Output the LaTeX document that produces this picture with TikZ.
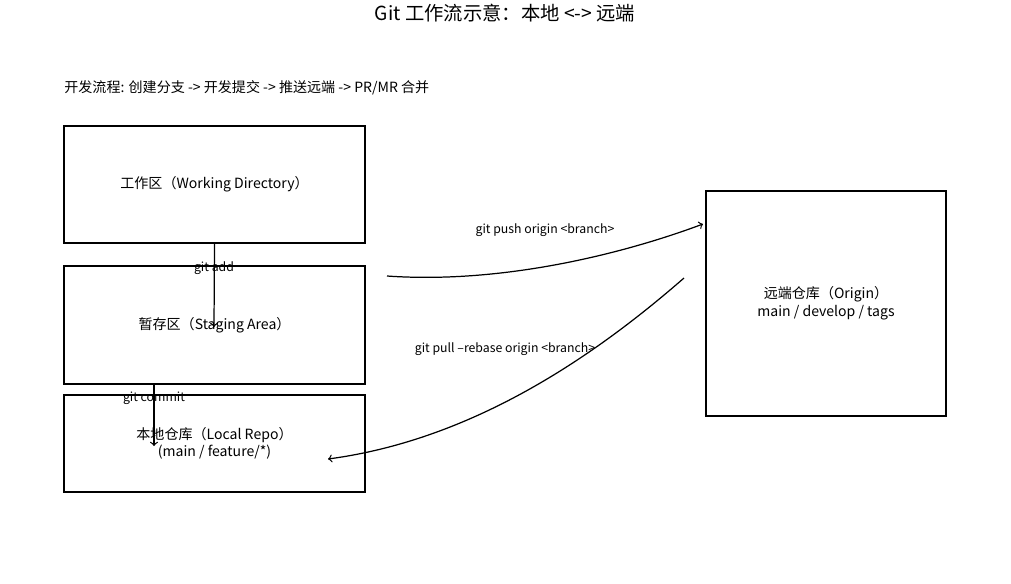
\documentclass[tikz,border=0pt]{standalone}
\usepackage{fontspec}
\setmainfont{Noto Sans CJK SC}
\usetikzlibrary{positioning, calc, arrows}

\tikzset{
  area/.style={draw, line width=0.9pt, minimum width=6.02cm, inner sep=0pt, align=center, font=\fontsize{8}{10}\selectfont},
  lbl/.style={font=\fontsize{7}{8}\selectfont, inner sep=1pt},
  flow/.style={->, line width=0.7pt}
}

\begin{document}
\begin{tikzpicture}[x=0.02cm, y=-0.02cm]
        \useasboundingbox (0,0) rectangle (1011,583);
        % titles
        \node (title) at (505,13) {\fontsize{11}{13}\selectfont Git 工作流示意：本地 <-> 远端};
        \node[anchor=west, font=\fontsize{8}{10}\selectfont, inner sep=0pt] (steps) at (64,88) {开发流程: 创建分支 -> 开发提交 -> 推送远端 -> PR/MR 合并};
        % boxes
        \node[area, minimum height=2.34cm] (work)   at (214.5,184.5) {工作区（Working Directory）};
        \node[area, minimum height=2.36cm] (stage)  at (214.5,325)   {暂存区（Staging Area）};
        \node[area, minimum height=1.94cm] (local)  at (214.5,443.5) {本地仓库（Local Repo）\\(main / feature/*)};
        \node[area, minimum width=4.8cm, minimum height=4.5cm] (origin) at (826,303.5) {远端仓库（Origin）\\main / develop / tags};
        % helper points
        \coordinate (add-end)    at (214,327);
        \coordinate (commit-in)  at (154,384);
        \coordinate (commit-end) at (154,446);
        \coordinate (push-in)    at (387,276);
        \coordinate (push-end)   at (703,224);
        \coordinate (pull-in)    at (684,278);
        \coordinate (pull-end)   at (328,459);
        % arrows
        \draw[flow] (work.south) -- (add-end);
        \draw[flow] (commit-in) -- (commit-end);
        \draw[flow] (push-in) .. controls (500,284) and (620,255) .. (push-end);
        \draw[flow] (pull-in) .. controls (590,360) and (470,440) .. (pull-end);
        % labels
        \node[lbl] (add-lbl)    at (214,268) {git add};
        \node[lbl] (commit-lbl) at (154,398) {git commit};
        \node[lbl] (push-lbl)   at (545,230) {git push origin <branch>};
        \node[lbl] (pull-lbl)   at (505,349) {git pull --rebase origin <branch>};
\end{tikzpicture}
\end{document}
